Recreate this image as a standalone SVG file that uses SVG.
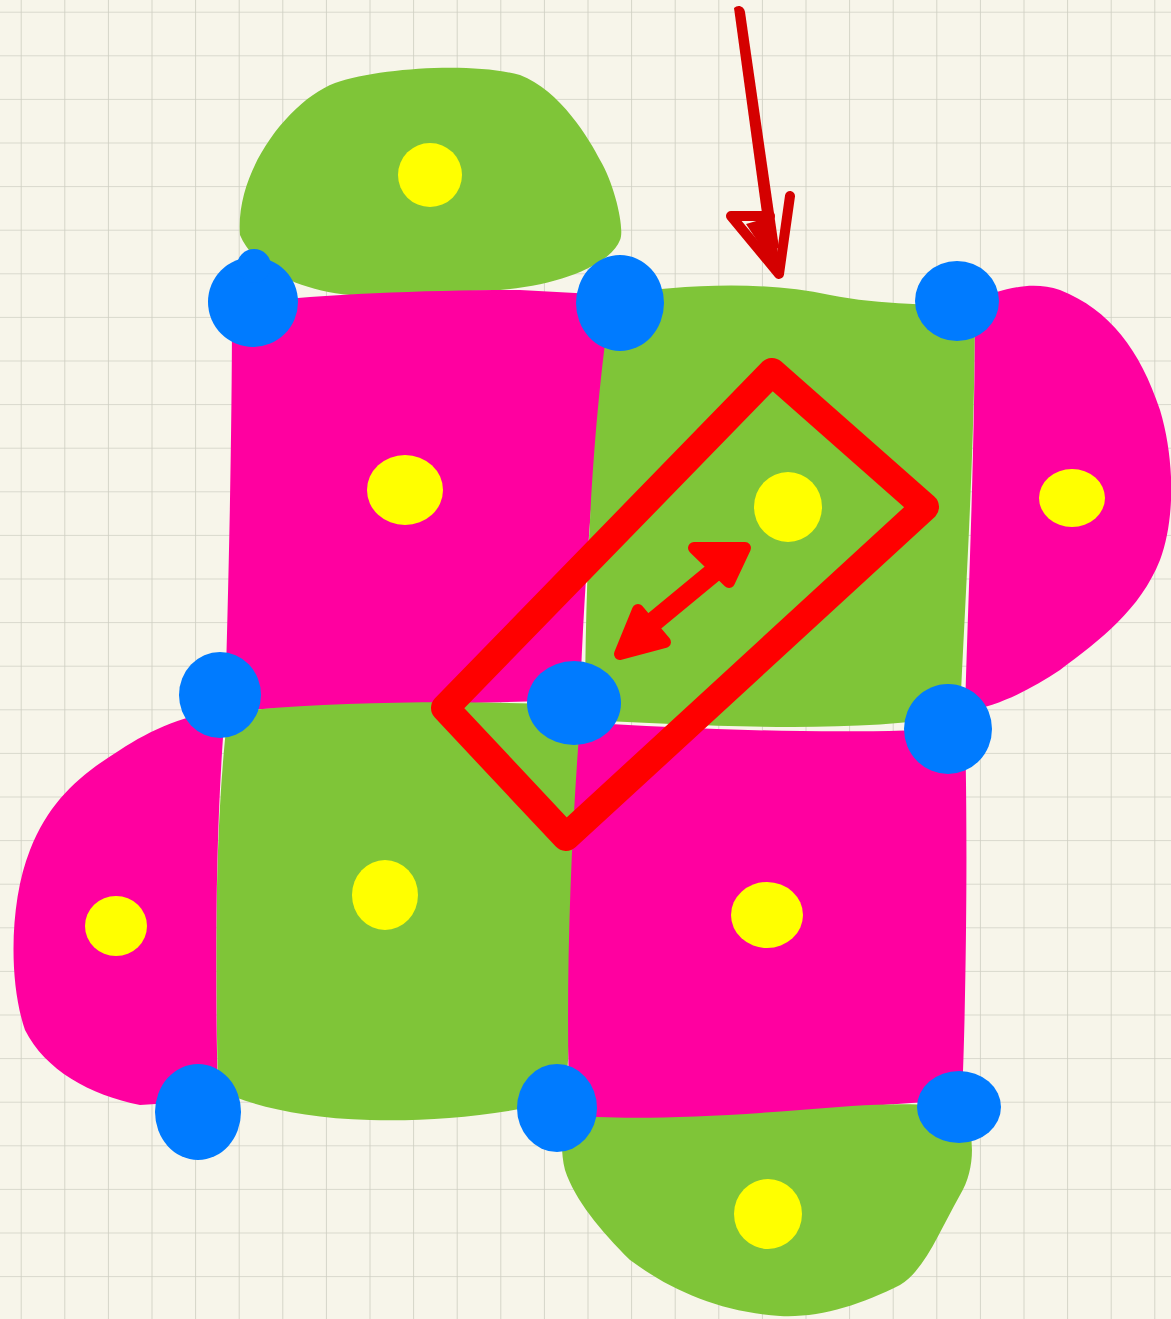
<svg xmlns="http://www.w3.org/2000/svg" width="1171" height="1319" viewBox="0 0 1171 1319">
<defs>
<pattern id="grid" patternUnits="userSpaceOnUse" x="20.7" y="11.7" width="43.6" height="43.6">
<path d="M0,0 V43.6 M0,0 H43.6" fill="none" stroke="#cfcfc3" stroke-width="1.7"/>
</pattern>
<style>
.g{fill:#7fc538}
.m{fill:#ff00a0}
.y{fill:#ffff00}
.b{fill:#007bff}
.red{fill:none;stroke:#ff0000;stroke-linecap:round;stroke-linejoin:round}
.redf{fill:#ff0000;stroke:#ff0000;stroke-linecap:round;stroke-linejoin:round}
.dr{fill:none;stroke:#d40000;stroke-linecap:round;stroke-linejoin:round}
</style>
</defs>
<rect width="1171" height="1319" fill="#f7f5ea"/>
<rect width="1171" height="1319" fill="url(#grid)"/>

<g id="tiles">
<path id="dome-top" class="g" d="M240,235 C235,170 290,100 335,83 C380,68 470,62 520,75 C560,90 590,140 600,160 C615,185 625,230 620,240 C610,265 560,285 500,290 L350,295 C300,290 255,270 240,235 Z"/>
<path id="sq-tl" class="m" d="M232,305 C300,295 420,290 520,290 L612,295 C600,400 585,550 580,700 L225,710 C228,600 232,450 232,305 Z"/>
<path id="sq-tr" class="g" d="M612,295 C680,285 760,280 830,295 C880,305 940,305 975,305 C975,450 965,600 960,715 C850,735 700,725 585,720 C585,550 595,400 612,295 Z"/>
<path id="half-right" class="m" d="M975,300 C1000,290 1030,280 1060,290 C1110,310 1140,350 1160,410 C1175,460 1175,520 1160,560 C1140,610 1100,640 1060,670 C1030,690 1000,705 965,712 C968,600 975,450 975,300 Z"/>
<path id="sq-bl" class="g" d="M228,712 C330,702 450,700 580,705 C578,850 575,980 565,1100 C500,1115 430,1122 370,1120 C300,1118 250,1105 218,1090 C215,950 215,820 228,712 Z"/>
<path id="half-left" class="m" d="M225,712 C190,712 150,730 120,750 C80,775 50,800 30,850 C10,900 8,980 25,1030 C45,1070 90,1095 140,1105 L218,1100 C215,980 215,830 225,712 Z"/>
<path id="sq-br" class="m" d="M580,722 C700,730 850,735 965,728 C968,850 966,1000 962,1100 C880,1105 800,1110 720,1118 L570,1122 C565,1000 570,850 580,722 Z"/>
<path id="dome-bottom" class="g" d="M565,1115 C620,1120 700,1118 800,1110 C860,1105 920,1100 965,1110 C975,1140 975,1170 960,1195 C940,1230 925,1270 900,1285 C860,1305 820,1318 780,1316 C720,1312 670,1290 630,1260 C600,1230 575,1200 565,1170 C560,1150 562,1130 565,1115 Z"/>
</g>

<g id="centers">
<ellipse class="y" cx="430" cy="175" rx="32" ry="32"/>
<ellipse class="y" cx="405" cy="490" rx="38" ry="35"/>
<ellipse class="y" cx="788" cy="507" rx="34" ry="35"/>
<ellipse class="y" cx="1072" cy="498" rx="33" ry="29"/>
<ellipse class="y" cx="385" cy="895" rx="33" ry="35"/>
<ellipse class="y" cx="116" cy="926" rx="31" ry="30"/>
<ellipse class="y" cx="767" cy="915" rx="36" ry="33"/>
<ellipse class="y" cx="768" cy="1214" rx="34" ry="35"/>
</g>

<g id="vertices">
<ellipse class="b" cx="253" cy="302" rx="45" ry="45"/>
<circle class="b" cx="254" cy="266" r="17"/>
<ellipse class="b" cx="620" cy="303" rx="44" ry="48"/>
<ellipse class="b" cx="957" cy="301" rx="42" ry="40"/>
<ellipse class="b" cx="220" cy="695" rx="41" ry="43"/>
<ellipse class="b" cx="574" cy="703" rx="47" ry="42"/>
<ellipse class="b" cx="948" cy="729" rx="44" ry="45"/>
<ellipse class="b" cx="198" cy="1112" rx="43" ry="48"/>
<ellipse class="b" cx="557" cy="1108" rx="40" ry="44"/>
<ellipse class="b" cx="959" cy="1107" rx="42" ry="36"/>
</g>

<g id="connectors">
<polygon class="red" stroke-width="28" points="772,372 925,507 566,837 445,708"/>
<line class="red" stroke-width="20" x1="640" y1="633" x2="726" y2="562"/>
<polygon class="redf" stroke-width="12" points="745,548 694,548 729,582"/>
<polygon class="redf" stroke-width="12" points="620,654 638,610 665,642"/>
<path fill="#d40000" d="M734,8 C738,4 744,6 745,12 L779,248 L767,250 Z"/>
<path class="dr" stroke-width="10" d="M731,216 L770,216 M731,216 L779,274 L790,196"/>
<path fill="#d40000" d="M746,224 L773,216 L780,270 L762,248 Z"/>
</g>
</svg>
